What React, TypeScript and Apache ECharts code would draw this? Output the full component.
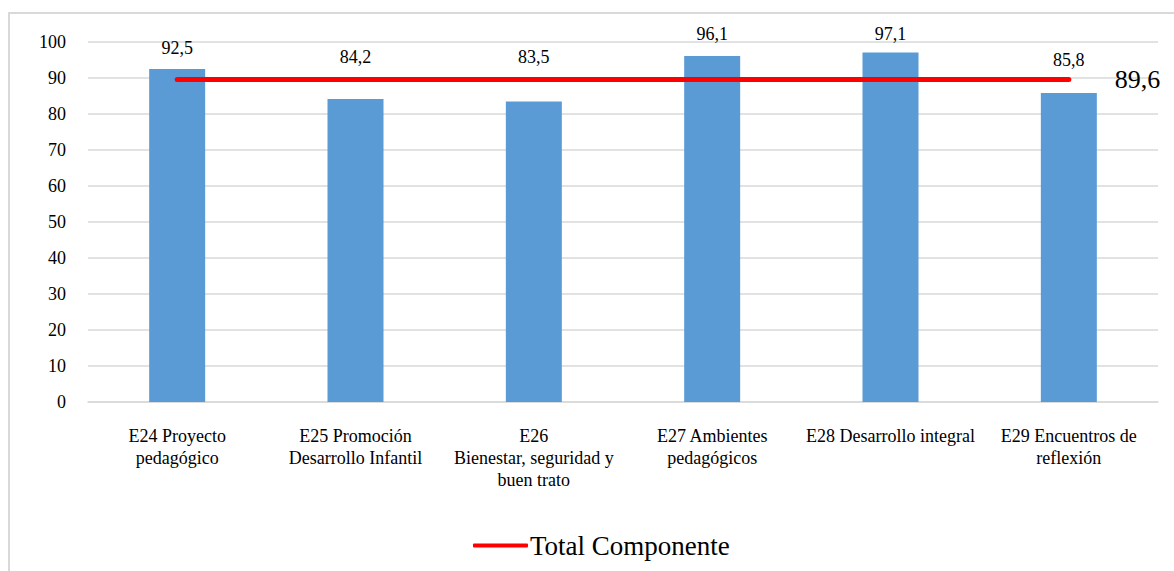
import React, { useEffect, useRef } from "react";
import * as echarts from "echarts";

const categories = [
  "E24 Proyecto\npedagógico",
  "E25 Promoción\nDesarrollo Infantil",
  "E26\nBienestar, seguridad y\nbuen trato",
  "E27 Ambientes\npedagógicos",
  "E28 Desarrollo integral",
  "E29 Encuentros de\nreflexión",
];
const barValues = [92.5, 84.2, 83.5, 96.1, 97.1, 85.8];
const totalValues = [89.6, 89.6, 89.6, 89.6, 89.6, 89.6];
const lineName = "Total Componente";
// label distances above the bar tops, as placed in the original
const labelDistances = [12, 33, 35, 13, 9, 24];

const FONT = "Liberation Serif";
const fmt = (v: number) => v.toFixed(1).replace(".", ",");

export default function App() {
  const ref = useRef<HTMLDivElement>(null);
  useEffect(() => {
    if (!ref.current) return;
    const chart = echarts.init(ref.current, null, { renderer: "svg" });
    chart.setOption({
      animation: false,
      textStyle: { fontFamily: FONT },
      graphic: [
        {
          type: "rect",
          shape: { x: 9, y: 13, width: 1200, height: 600 },
          style: { fill: "none", stroke: "#D9D9D9", lineWidth: 2 },
          silent: true,
          z: -1,
        },
      ],
      grid: { left: 88, right: 16, top: 42, bottom: 169, containLabel: false },
      legend: {
        data: [{ name: lineName, icon: "roundRect" }],
        left: 468,
        top: 527,
        itemWidth: 55,
        itemHeight: 4,
        itemGap: 2,
        textStyle: { fontFamily: FONT, fontSize: 27, color: "#000", padding: [0, 0, 0, -3] },
      },
      xAxis: {
        type: "category",
        data: categories,
        axisLine: { show: true, lineStyle: { color: "#D9D9D9", width: 1.5 } },
        axisTick: { show: false },
        axisLabel: {
          fontFamily: FONT,
          fontSize: 18,
          color: "#000",
          lineHeight: 22,
          margin: 23,
          interval: 0,
        },
      },
      yAxis: {
        type: "value",
        min: 0,
        max: 100,
        interval: 10,
        axisLine: { show: false },
        axisTick: { show: false },
        splitLine: { lineStyle: { color: "#D9D9D9", width: 1.5 } },
        axisLabel: { fontFamily: FONT, fontSize: 18, color: "#000", margin: 22 },
      },
      series: [
        {
          type: "bar",
          name: "Valor",
          data: barValues.map((v, i) => ({
            value: v,
            label: { distance: labelDistances[i] },
          })),
          barWidth: 56,
          itemStyle: { color: "#5B9BD5" },
          label: {
            show: true,
            position: "top",
            fontFamily: FONT,
            fontSize: 18,
            color: "#000",
            formatter: (p: any) => fmt(p.value),
          },
          z: 2,
        },
        {
          type: "line",
          name: lineName,
          data: totalValues,
          symbol: "none",
          lineStyle: { color: "#FF0000", width: 5, cap: "round" },
          itemStyle: { color: "#FF0000" },
          endLabel: {
            show: true,
            distance: 46,
            fontFamily: FONT,
            fontSize: 26,
            color: "#000",
            formatter: (p: any) => fmt(p.value),
          },
          z: 3,
        },
      ],
    });
    return () => chart.dispose();
  }, []);
  return (
    <div
      ref={ref}
      style={{ position: "fixed", left: 0, top: 0, width: 1174, height: 571, background: "#fff" }}
    />
  );
}
